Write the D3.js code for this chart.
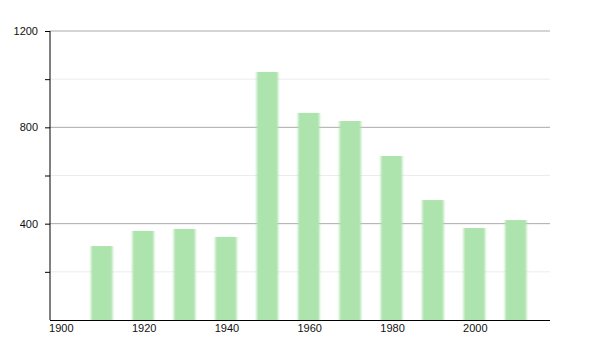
<!DOCTYPE html>
<html>
<head>
<meta charset="utf-8">
<script src="https://cdn.jsdelivr.net/npm/d3@7"></script>
<style>
  body { margin: 0; background: #fff; }
  text { font-family: "Liberation Sans", Arial, sans-serif; font-size: 11px; fill: #111; }
</style>
</head>
<body>
<div id="chart"></div>
<script>
// population by decade
const years = [1910, 1920, 1930, 1940, 1950, 1960, 1970, 1980, 1990, 2000, 2010];
const values = [307, 370, 378, 345, 1030, 860, 826, 681, 498, 382, 415];
const xTicks = [1900, 1920, 1940, 1960, 1980, 2000];
const yMajor = [400, 800, 1200];
const yMinor = [200, 600, 1000];

const width = 600, height = 350;
const margin = {top: 31, right: 50, bottom: 30, left: 50};

const svg = d3.select('#chart')
    .append('svg')
        .attr('width', width)
        .attr('height', height);

// soft edges on the bars
svg.append('defs')
    .append('filter')
        .attr('id', 'soft')
        .attr('x', '-20%').attr('width', '140%')
    .append('feGaussianBlur')
        .attr('stdDeviation', '1 0.4');

const x = d3.scaleLinear()
    .domain([1900, 2020])
    .range([49.6, 546.4]);

const y = d3.scaleLinear()
    .domain([0, 1200])
    .range([height - margin.bottom, margin.top]);

// grid lines
svg.append('g')
    .selectAll('line')
    .data(yMinor)
    .join('line')
        .attr('x1', margin.left).attr('x2', width - margin.right)
        .attr('y1', d => y(d)).attr('y2', d => y(d))
        .attr('stroke', '#ececec');
svg.append('g')
    .selectAll('line')
    .data(yMajor)
    .join('line')
        .attr('x1', margin.left).attr('x2', width - margin.right)
        .attr('y1', d => y(d)).attr('y2', d => y(d))
        .attr('stroke', '#aaa');

// bars
const barW = x(1915.2) - x(1910);
svg.append('g')
        .attr('filter', 'url(#soft)')
    .selectAll('rect')
    .data(years)
    .join('rect')
        .attr('x', d => x(d))
        .attr('y', (d, i) => y(values[i]))
        .attr('width', barW)
        .attr('height', (d, i) => y(0) - y(values[i]))
        .attr('fill', '#ade3ad');

// y axis
const yAxis = svg.append('g')
    .attr('transform', `translate(${margin.left},0)`)
    .call(d3.axisLeft(y).tickValues(yMajor.concat(yMinor)).tickSize(5).tickPadding(7)
        .tickFormat(d => yMajor.includes(d) ? d : ''));
yAxis.select('.domain').attr('stroke', '#000').attr('d', `M0,${y(1200)}V${y(0)}`);
yAxis.selectAll('text').style('font-size', '11px');

// x axis
const xAxis = svg.append('g')
    .attr('transform', `translate(0,${y(0)})`)
    .call(d3.axisBottom(x).tickValues(xTicks).tickSize(0).tickPadding(4).tickFormat(d3.format('d')));
xAxis.select('.domain').attr('stroke', '#000').attr('d', `M${margin.left},0.5H${width - margin.right}`);
xAxis.selectAll('text').attr('text-anchor', 'start').attr('dx', -1).style('font-size', '11px');
</script>
</body>
</html>
